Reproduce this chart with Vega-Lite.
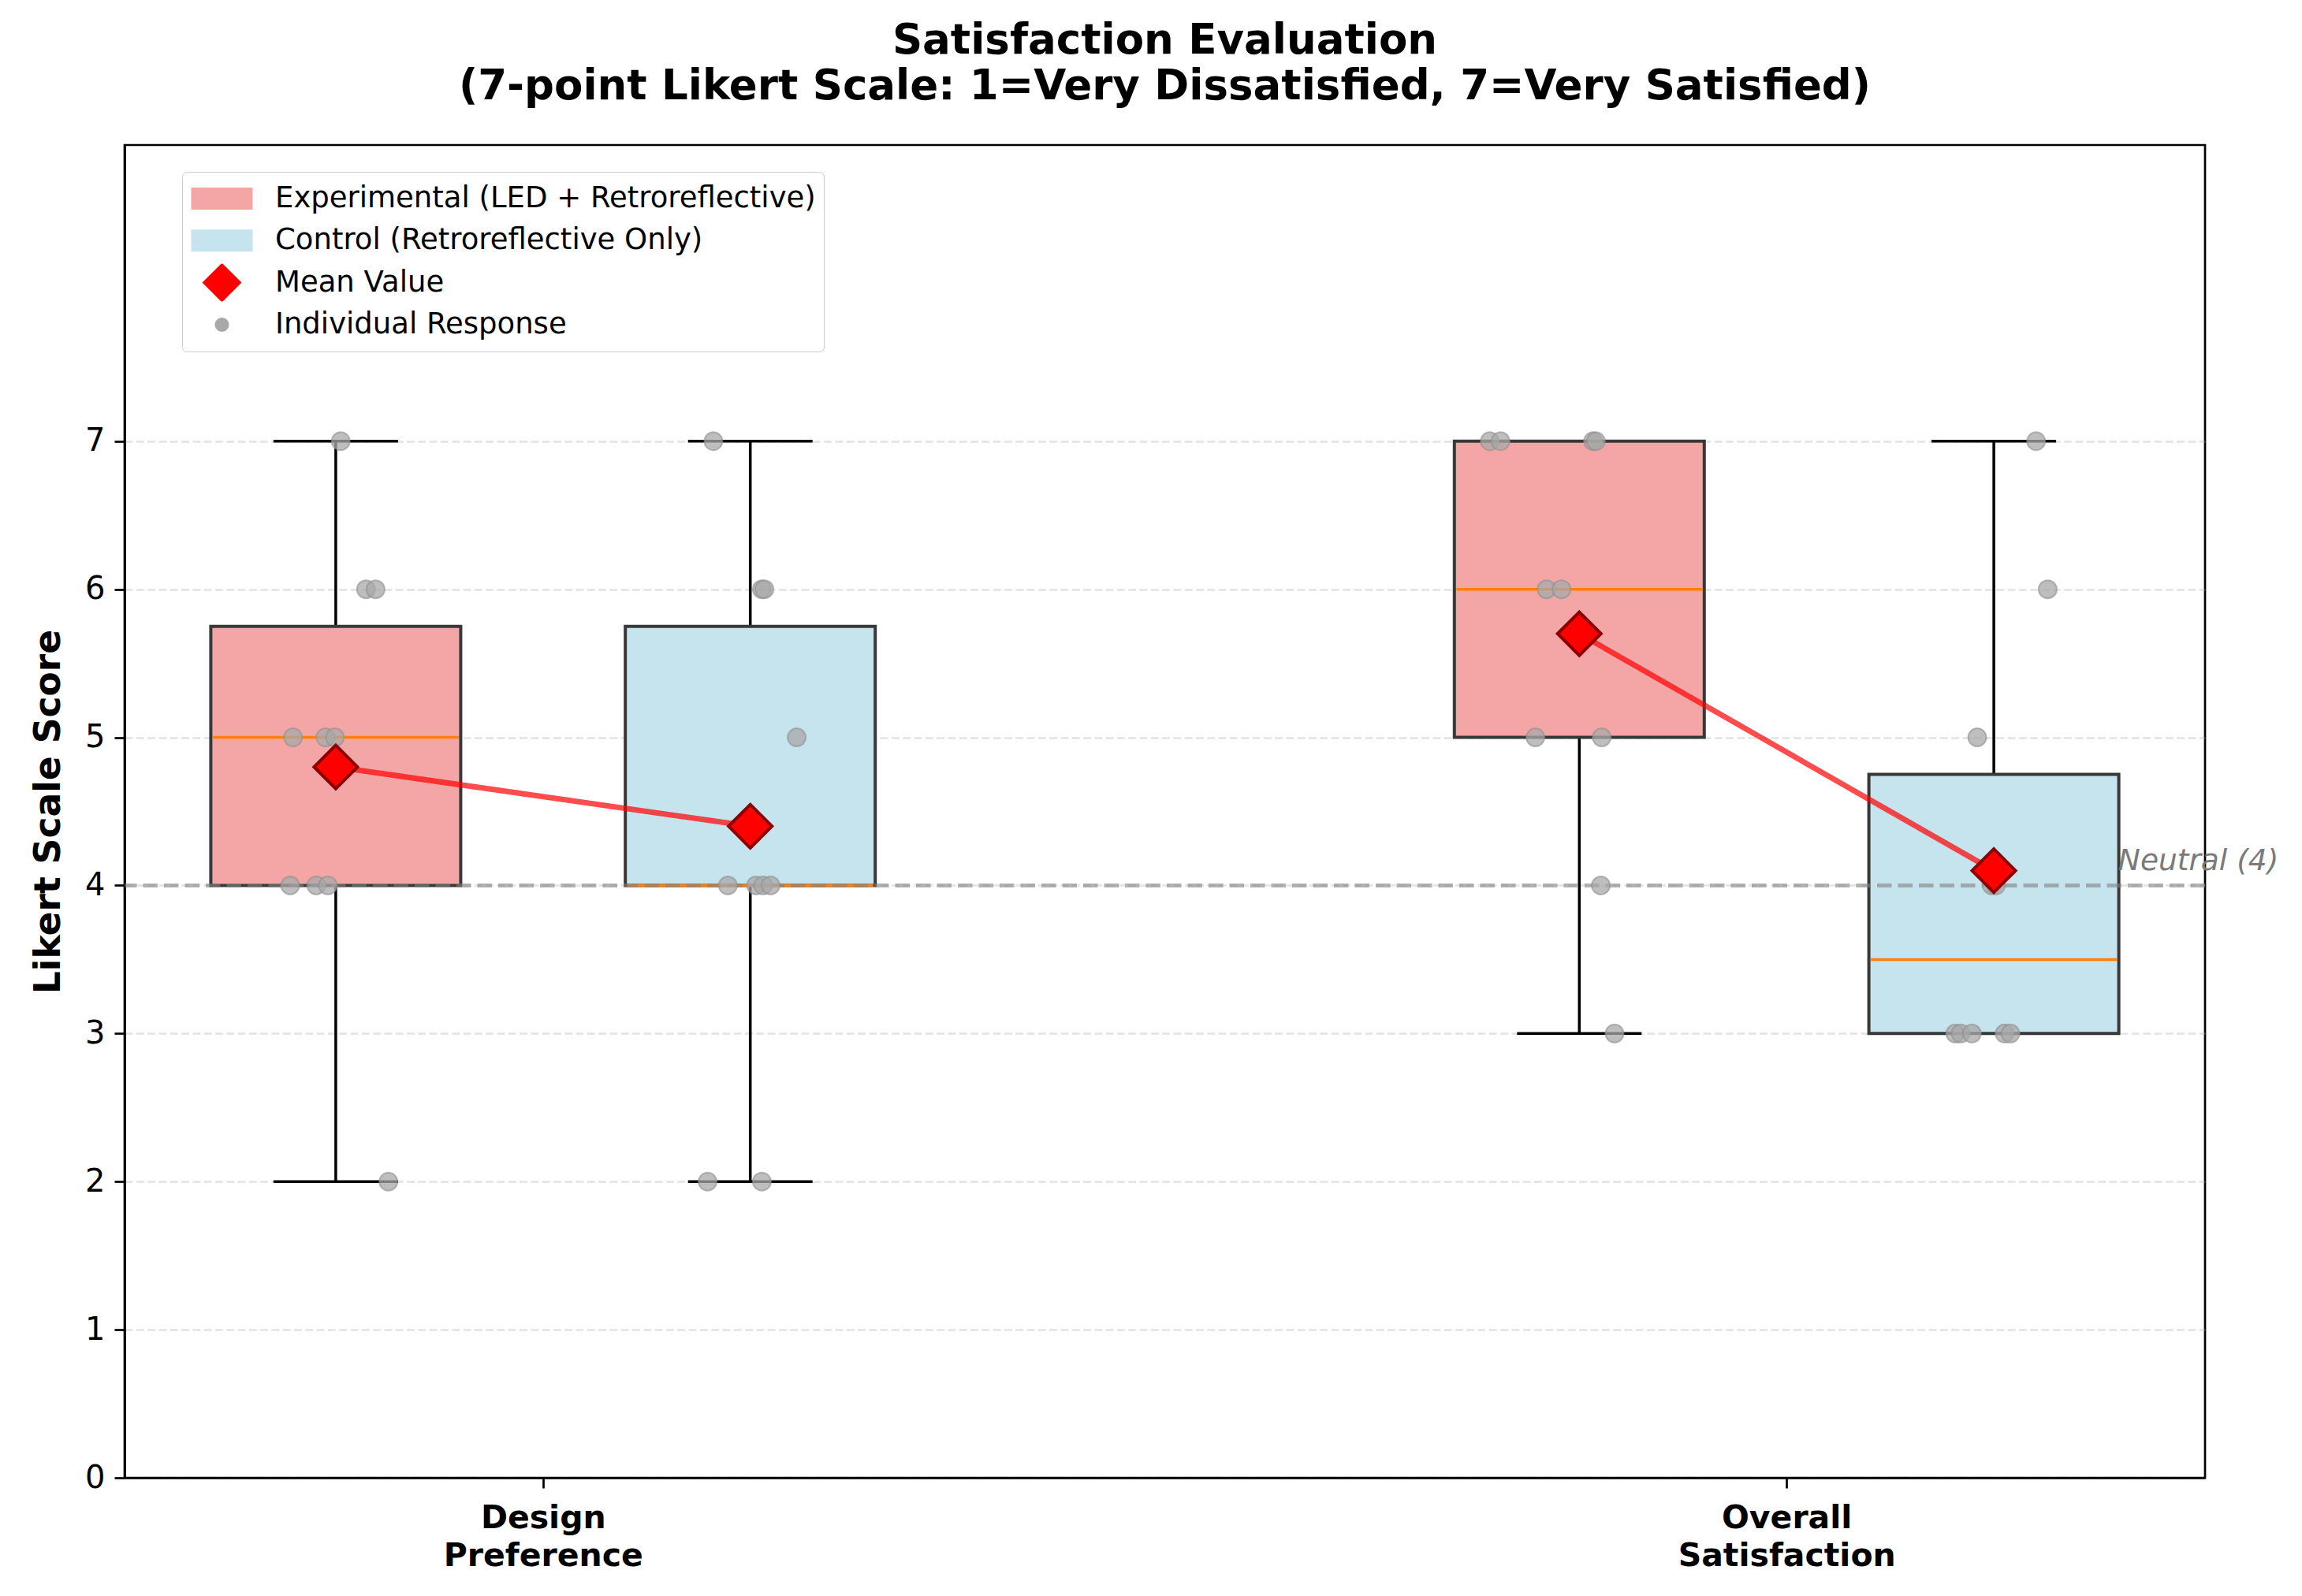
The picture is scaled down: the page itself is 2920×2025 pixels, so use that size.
{
  "$schema": "https://vega.github.io/schema/vega-lite/v6.json",
  "width": 2639,
  "height": 1691,
  "autosize": {"type": "none"},
  "padding": {"left": 158, "top": 184, "right": 123, "bottom": 150},
  "background": "white",
  "title": {
    "text": ["Satisfaction Evaluation", "(7-point Likert Scale: 1=Very Dissatisfied, 7=Very Satisfied)"],
    "font": "DejaVu Sans",
    "fontSize": 53,
    "fontWeight": "bold",
    "color": "black",
    "anchor": "middle",
    "frame": "group",
    "lineHeight": 58,
    "offset": 47
  },
  "datasets": {
    "responses": [
      {"metric": "Design Preference", "group": "Experimental (LED + Retroreflective)", "pos": 1, "jx": 1.012, "score": 7},
      {"metric": "Design Preference", "group": "Experimental (LED + Retroreflective)", "pos": 1, "jx": 1.073, "score": 6},
      {"metric": "Design Preference", "group": "Experimental (LED + Retroreflective)", "pos": 1, "jx": 1.096, "score": 6},
      {"metric": "Design Preference", "group": "Experimental (LED + Retroreflective)", "pos": 1, "jx": 0.897, "score": 5},
      {"metric": "Design Preference", "group": "Experimental (LED + Retroreflective)", "pos": 1, "jx": 0.975, "score": 5},
      {"metric": "Design Preference", "group": "Experimental (LED + Retroreflective)", "pos": 1, "jx": 0.998, "score": 5},
      {"metric": "Design Preference", "group": "Experimental (LED + Retroreflective)", "pos": 1, "jx": 0.890, "score": 4},
      {"metric": "Design Preference", "group": "Experimental (LED + Retroreflective)", "pos": 1, "jx": 0.953, "score": 4},
      {"metric": "Design Preference", "group": "Experimental (LED + Retroreflective)", "pos": 1, "jx": 0.981, "score": 4},
      {"metric": "Design Preference", "group": "Experimental (LED + Retroreflective)", "pos": 1, "jx": 1.127, "score": 2},
      {"metric": "Design Preference", "group": "Control (Retroreflective Only)", "pos": 2, "jx": 1.911, "score": 7},
      {"metric": "Design Preference", "group": "Control (Retroreflective Only)", "pos": 2, "jx": 2.028, "score": 6},
      {"metric": "Design Preference", "group": "Control (Retroreflective Only)", "pos": 2, "jx": 2.034, "score": 6},
      {"metric": "Design Preference", "group": "Control (Retroreflective Only)", "pos": 2, "jx": 2.112, "score": 5},
      {"metric": "Design Preference", "group": "Control (Retroreflective Only)", "pos": 2, "jx": 1.946, "score": 4},
      {"metric": "Design Preference", "group": "Control (Retroreflective Only)", "pos": 2, "jx": 2.014, "score": 4},
      {"metric": "Design Preference", "group": "Control (Retroreflective Only)", "pos": 2, "jx": 2.031, "score": 4},
      {"metric": "Design Preference", "group": "Control (Retroreflective Only)", "pos": 2, "jx": 2.049, "score": 4},
      {"metric": "Design Preference", "group": "Control (Retroreflective Only)", "pos": 2, "jx": 1.897, "score": 2},
      {"metric": "Design Preference", "group": "Control (Retroreflective Only)", "pos": 2, "jx": 2.028, "score": 2},
      {"metric": "Overall Satisfaction", "group": "Experimental (LED + Retroreflective)", "pos": 4, "jx": 3.784, "score": 7},
      {"metric": "Overall Satisfaction", "group": "Experimental (LED + Retroreflective)", "pos": 4, "jx": 3.810, "score": 7},
      {"metric": "Overall Satisfaction", "group": "Experimental (LED + Retroreflective)", "pos": 4, "jx": 4.033, "score": 7},
      {"metric": "Overall Satisfaction", "group": "Experimental (LED + Retroreflective)", "pos": 4, "jx": 4.040, "score": 7},
      {"metric": "Overall Satisfaction", "group": "Experimental (LED + Retroreflective)", "pos": 4, "jx": 3.921, "score": 6},
      {"metric": "Overall Satisfaction", "group": "Experimental (LED + Retroreflective)", "pos": 4, "jx": 3.957, "score": 6},
      {"metric": "Overall Satisfaction", "group": "Experimental (LED + Retroreflective)", "pos": 4, "jx": 3.894, "score": 5},
      {"metric": "Overall Satisfaction", "group": "Experimental (LED + Retroreflective)", "pos": 4, "jx": 4.054, "score": 5},
      {"metric": "Overall Satisfaction", "group": "Experimental (LED + Retroreflective)", "pos": 4, "jx": 4.052, "score": 4},
      {"metric": "Overall Satisfaction", "group": "Experimental (LED + Retroreflective)", "pos": 4, "jx": 4.085, "score": 3},
      {"metric": "Overall Satisfaction", "group": "Control (Retroreflective Only)", "pos": 5, "jx": 5.102, "score": 7},
      {"metric": "Overall Satisfaction", "group": "Control (Retroreflective Only)", "pos": 5, "jx": 5.130, "score": 6},
      {"metric": "Overall Satisfaction", "group": "Control (Retroreflective Only)", "pos": 5, "jx": 4.960, "score": 5},
      {"metric": "Overall Satisfaction", "group": "Control (Retroreflective Only)", "pos": 5, "jx": 4.995, "score": 4},
      {"metric": "Overall Satisfaction", "group": "Control (Retroreflective Only)", "pos": 5, "jx": 5.005, "score": 4},
      {"metric": "Overall Satisfaction", "group": "Control (Retroreflective Only)", "pos": 5, "jx": 4.907, "score": 3},
      {"metric": "Overall Satisfaction", "group": "Control (Retroreflective Only)", "pos": 5, "jx": 4.920, "score": 3},
      {"metric": "Overall Satisfaction", "group": "Control (Retroreflective Only)", "pos": 5, "jx": 4.947, "score": 3},
      {"metric": "Overall Satisfaction", "group": "Control (Retroreflective Only)", "pos": 5, "jx": 5.026, "score": 3},
      {"metric": "Overall Satisfaction", "group": "Control (Retroreflective Only)", "pos": 5, "jx": 5.040, "score": 3}
    ],
    "neutral": [{"label": "Neutral (4)", "level": 4}]
  },
  "layer": [
    {
      "data": {"name": "responses"},
      "transform": [
        {"aggregate": [
          {"op": "q1", "field": "score", "as": "q1"},
          {"op": "min", "field": "score", "as": "lo"}
        ], "groupby": ["metric", "group", "pos"]}
      ],
      "mark": {"type": "rule", "color": "black", "strokeWidth": 3.5},
      "encoding": {
        "x": {
          "field": "pos", "type": "quantitative", "title": null,
          "scale": {"domain": [0.5, 5.5], "nice": false, "zero": false},
          "axis": {
            "values": [1.5, 4.5],
            "labelExpr": "datum.value == 1.5 ? ['Design', 'Preference'] : ['Overall', 'Satisfaction']",
            "labelFontSize": 41, "labelFontWeight": "bold", "labelLineHeight": 48,
            "labelPadding": 18, "labelFlush": false, "labelOverlap": false, "labelAngle": 0, "labelLimit": 2000,
            "tickSize": 13, "grid": false
          }
        },
        "y": {
          "field": "lo", "type": "quantitative", "title": "Likert Scale Score",
          "scale": {"domain": [0, 9], "nice": false, "zero": false},
          "axis": {
            "values": [0, 1, 2, 3, 4, 5, 6, 7], "format": "d",
            "labelFontSize": 40, "labelPadding": 12, "tickSize": 13,
            "grid": true, "gridDash": [10, 4.3], "gridColor": "#b0b0b0", "gridOpacity": 0.35, "gridWidth": 2.7,
            "titleFontSize": 45.6, "titleFontWeight": "bold", "titlePadding": 22
          }
        },
        "y2": {"field": "q1"}
      }
    },
    {
      "data": {"name": "responses"},
      "transform": [
        {"aggregate": [
          {"op": "q3", "field": "score", "as": "q3"},
          {"op": "max", "field": "score", "as": "hi"}
        ], "groupby": ["metric", "group", "pos"]}
      ],
      "mark": {"type": "rule", "color": "black", "strokeWidth": 3.5},
      "encoding": {
        "x": {"field": "pos", "type": "quantitative", "title": null},
        "y": {"field": "q3", "type": "quantitative", "title": "Likert Scale Score"},
        "y2": {"field": "hi"}
      }
    },
    {
      "data": {"name": "responses"},
      "transform": [
        {"aggregate": [{"op": "min", "field": "score", "as": "lo"}], "groupby": ["metric", "group", "pos"]}
      ],
      "mark": {"type": "tick", "orient": "horizontal", "color": "black", "size": 158, "thickness": 3.5, "opacity": 1},
      "encoding": {
        "x": {"field": "pos", "type": "quantitative", "title": null},
        "y": {"field": "lo", "type": "quantitative", "title": "Likert Scale Score"}
      }
    },
    {
      "data": {"name": "responses"},
      "transform": [
        {"aggregate": [{"op": "max", "field": "score", "as": "hi"}], "groupby": ["metric", "group", "pos"]}
      ],
      "mark": {"type": "tick", "orient": "horizontal", "color": "black", "size": 158, "thickness": 3.5, "opacity": 1},
      "encoding": {
        "x": {"field": "pos", "type": "quantitative", "title": null},
        "y": {"field": "hi", "type": "quantitative", "title": "Likert Scale Score"}
      }
    },
    {
      "data": {"name": "responses"},
      "transform": [
        {"aggregate": [
          {"op": "q1", "field": "score", "as": "q1"},
          {"op": "q3", "field": "score", "as": "q3"}
        ], "groupby": ["metric", "group", "pos"]}
      ],
      "mark": {"type": "bar", "width": 317, "opacity": 1},
      "encoding": {
        "x": {"field": "pos", "type": "quantitative", "title": null},
        "y": {"field": "q1", "type": "quantitative", "title": "Likert Scale Score"},
        "y2": {"field": "q3"},
        "color": {
          "field": "group", "type": "nominal",
          "scale": {
            "domain": ["Experimental (LED + Retroreflective)", "Control (Retroreflective Only)", "Mean Value", "Individual Response"],
            "range": ["#F4A6A6", "#C6E4EE", "#FF0000", "#A8A8A8"]
          },
          "legend": {
            "title": null,
            "orient": "none",
            "legendX": 73,
            "legendY": 34,
            "padding": 10,
            "clipHeight": 48,
            "rowPadding": 5.3,
            "symbolSize": 6084,
            "symbolStrokeWidth": 3,
            "symbolOffset": 0,
            "labelOffset": 27,
            "labelFont": "DejaVu Sans",
            "labelFontSize": 37,
            "labelColor": "black",
            "labelLimit": 2000,
            "strokeColor": "#cccccc",
            "fillColor": "white",
            "cornerRadius": 6
          }
        }
      }
    },
    {
      "data": {"name": "responses"},
      "transform": [
        {"aggregate": [
          {"op": "q1", "field": "score", "as": "q1"},
          {"op": "q3", "field": "score", "as": "q3"}
        ], "groupby": ["metric", "group", "pos"]}
      ],
      "mark": {"type": "bar", "width": 317, "fill": "transparent", "stroke": "#383838", "strokeWidth": 4},
      "encoding": {
        "x": {"field": "pos", "type": "quantitative", "title": null},
        "y": {"field": "q1", "type": "quantitative", "title": "Likert Scale Score"},
        "y2": {"field": "q3"}
      }
    },
    {
      "data": {"name": "responses"},
      "transform": [
        {"aggregate": [{"op": "median", "field": "score", "as": "med"}], "groupby": ["metric", "group", "pos"]}
      ],
      "mark": {"type": "tick", "orient": "horizontal", "color": "#FF7F0E", "size": 312, "thickness": 3.5, "opacity": 1},
      "encoding": {
        "x": {"field": "pos", "type": "quantitative", "title": null},
        "y": {"field": "med", "type": "quantitative", "title": "Likert Scale Score"}
      }
    },
    {
      "data": {"name": "neutral"},
      "mark": {"type": "rule", "color": "#808080", "opacity": 0.6, "strokeWidth": 5, "strokeDash": [18.5, 8]},
      "encoding": {
        "y": {"field": "level", "type": "quantitative", "title": "Likert Scale Score"}
      }
    },
    {
      "data": {"name": "responses"},
      "mark": {"type": "point", "filled": true, "size": 10000, "fillOpacity": 0.75, "stroke": "#909090", "strokeOpacity": 0.6, "strokeWidth": 2},
      "encoding": {
        "x": {"field": "jx", "type": "quantitative", "title": null},
        "y": {"field": "score", "type": "quantitative", "title": "Likert Scale Score"},
        "color": {"datum": "Individual Response", "type": "nominal"},
        "shape": {
          "datum": "Individual Response", "type": "nominal",
          "scale": {
            "domain": ["Experimental (LED + Retroreflective)", "Control (Retroreflective Only)", "Mean Value", "Individual Response"],
            "range": [
              "M-1,-0.36H1V0.36H-1Z",
              "M-1,-0.36H1V0.36H-1Z",
              "M-0.64,0L0,-0.64L0.64,0L0,0.64Z",
              "M-0.23,0A0.23,0.23,0,1,0,0.23,0A0.23,0.23,0,1,0,-0.23,0Z"
            ]
          },
          "legend": {"title": null}
        }
      }
    },
    {
      "data": {"name": "responses"},
      "transform": [
        {"aggregate": [{"op": "mean", "field": "score", "as": "mean"}], "groupby": ["metric", "group", "pos"]}
      ],
      "mark": {"type": "line", "color": "#FF0000", "opacity": 0.7, "strokeWidth": 7},
      "encoding": {
        "x": {"field": "pos", "type": "quantitative", "title": null},
        "y": {"field": "mean", "type": "quantitative", "title": "Likert Scale Score"},
        "detail": {"field": "metric", "type": "nominal"}
      }
    },
    {
      "data": {"name": "responses"},
      "transform": [
        {"aggregate": [{"op": "mean", "field": "score", "as": "mean"}], "groupby": ["metric", "group", "pos"]}
      ],
      "mark": {"type": "point", "filled": true, "size": 7396, "opacity": 1, "stroke": "#8B0000", "strokeWidth": 4},
      "encoding": {
        "x": {"field": "pos", "type": "quantitative", "title": null},
        "y": {"field": "mean", "type": "quantitative", "title": "Likert Scale Score"},
        "color": {"datum": "Mean Value", "type": "nominal"},
        "shape": {"datum": "Mean Value", "type": "nominal"}
      }
    },
    {
      "data": {"name": "neutral"},
      "mark": {"type": "text", "align": "left", "baseline": "alphabetic", "dy": -19, "font": "DejaVu Sans", "fontStyle": "italic", "fontSize": 37.5, "color": "#7a7a7a"},
      "encoding": {
        "x": {"datum": 5.3, "type": "quantitative"},
        "y": {"field": "level", "type": "quantitative", "title": "Likert Scale Score"},
        "text": {"field": "label"}
      }
    }
  ],
  "config": {
    "font": "DejaVu Sans",
    "view": {"stroke": "black", "strokeWidth": 2.7},
    "axis": {
      "domainColor": "black", "domainWidth": 2.7,
      "tickColor": "black", "tickWidth": 2.7,
      "labelColor": "black", "titleColor": "black",
      "labelFont": "DejaVu Sans", "titleFont": "DejaVu Sans"
    }
  }
}
